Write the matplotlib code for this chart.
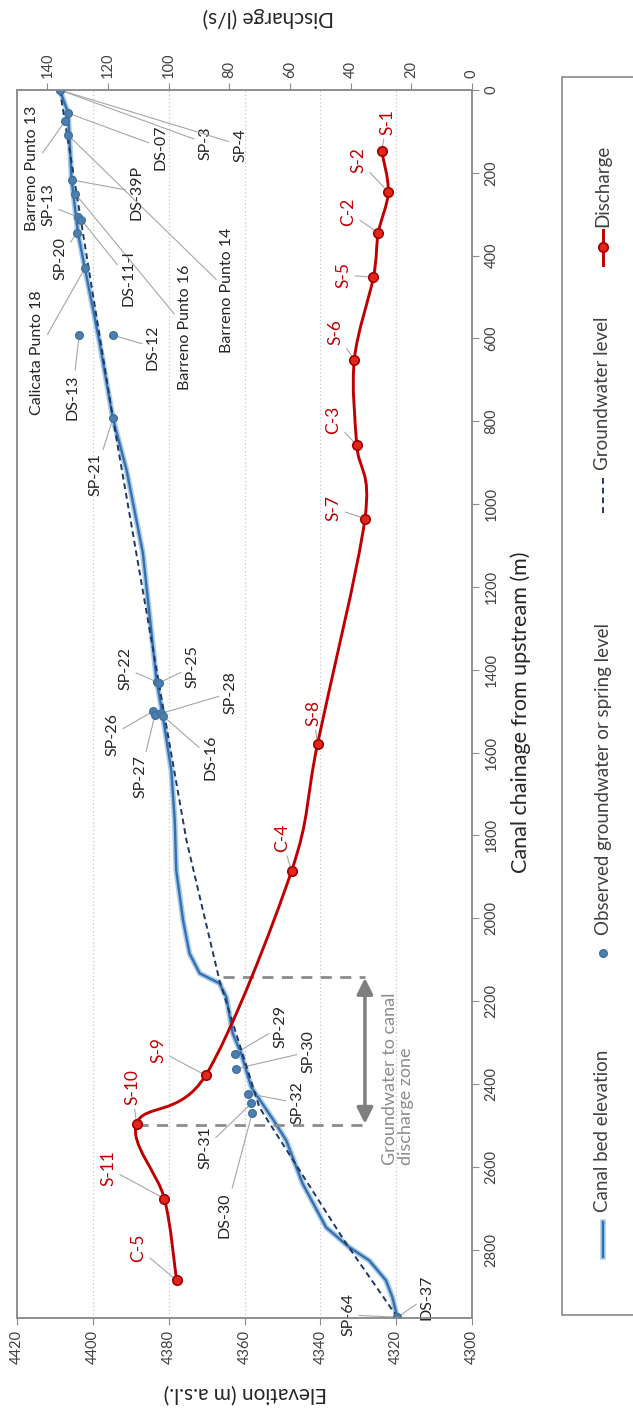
import numpy as np
import matplotlib
matplotlib.use("Agg")
import matplotlib.pyplot as plt
from matplotlib.path import Path
from matplotlib.patches import PathPatch, Rectangle
from matplotlib.lines import Line2D

plt.rcParams['font.family'] = ['Lato', 'DejaVu Sans']

# ---- discharge survey along the canal ----
discharge_names = ['S-1', 'S-2', 'C-2', 'S-5', 'S-6', 'C-3', 'S-7', 'S-8',
                   'C-4', 'S-9', 'S-10', 'S-11', 'C-5']
discharge_chainage = [147, 246, 345, 452, 651, 857, 1035, 1578, 1886, 2379,
                      2496, 2677, 2874]
discharge_flow = [29.8, 27.6, 30.9, 32.5, 38.8, 38.0, 35.3, 50.9, 59.5, 87.8,
                  110.6, 101.4, 97.4]

# ---- canal bed profile ----
canal_chainage = [0, 56, 217, 346, 430, 531, 611, 793, 918, 1118, 1425, 1514,
                  1643, 1763, 1884, 2005, 2085, 2133, 2157, 2190, 2278, 2326,
                  2408, 2488, 2536, 2640, 2746, 2794, 2826, 2874, 2915, 2963]
canal_elevation = [4408.7, 4406.5, 4405.6, 4403.9, 4402.1, 4399.9, 4398.2,
                   4394.7, 4391.1, 4386.8, 4383.2, 4381.5, 4379.3, 4378.4,
                   4378.0, 4376.2, 4374.5, 4371.8, 4366.6, 4364.8, 4363.1,
                   4360.9, 4358.2, 4352.3, 4349.0, 4344.7, 4338.5, 4332.4,
                   4327.1, 4322.7, 4321.0, 4319.7]

# ---- interpreted groundwater level ----
gw_chainage = [0, 793, 1442, 1812, 2150, 2456, 2785, 2963]
gw_elevation = [4408.7, 4394.7, 4382.4, 4375.3, 4366.6, 4356.1, 4333.2, 4319.7]

# ---- observed groundwater / spring levels ----
obs_names = ['SP-3', 'SP-4', 'DS-07', 'Barreno Punto 13', 'Barreno Punto 14',
             'DS-39P', 'Barreno Punto 16', 'SP-13', 'DS-11-I', 'SP-20',
             'Calicata Punto 18', 'DS-13', 'DS-12', 'SP-21', 'SP-22', 'SP-25',
             'SP-26', 'SP-27', 'SP-28', 'DS-16', 'SP-29', 'SP-30', 'SP-32',
             'SP-31', 'DS-30', 'SP-64', 'DS-37']
obs_chainage = [0, 0, 56, 76, 109, 217, 250, 307, 314, 346, 430, 592, 592, 793,
                1429, 1432, 1500, 1508, 1505, 1512, 2327, 2363, 2423, 2447,
                2471, 2963, 2963]
obs_elevation = [4408.7, 4408.7, 4406.5, 4407.4, 4406.5, 4405.6, 4404.7,
                 4403.9, 4403.0, 4404.3, 4402.1, 4403.6, 4394.7, 4394.7,
                 4383.2, 4382.6, 4384.1, 4383.6, 4381.9, 4381.4, 4362.6,
                 4362.2, 4359.1, 4358.2, 4358.0, 4319.7, 4319.7]

# groundwater-to-canal discharge zone (chainage limits, m)
zone_start, zone_end = 2142, 2498

# tick values
elev_ticks = [4300, 4320, 4340, 4360, 4380, 4400, 4420]
flow_ticks = [0, 20, 40, 60, 80, 100, 120, 140]
chain_ticks = list(range(0, 3000, 200))

# ---- label layout (figure pixels from top-left) ----
obs_label_px = [(205, 143), (240, 145), (160, 147), (32, 168), (227, 290),
                (137, 192), (185, 327), (48, 205), (128, 278), (60, 258),
                (37, 353), (72, 397), (153, 347), (95, 475), (125, 668),
                (192, 667), (112, 735), (140, 777), (230, 693), (210, 757),
                (280, 1027), (308, 1052), (297, 1103), (205, 1148),
                (225, 1215), (348, 1315), (427, 1297)]
flow_label_px = [(387, 122), (358, 160), (348, 212), (343, 275), (335, 332),
                 (333, 420), (333, 508), (313, 713), (282, 838), (158, 1050),
                 (132, 1087), (108, 1168), (138, 1248)]

W, H = 633, 1410
fig = plt.figure(figsize=(W / 100, H / 100), dpi=100)


def fx(x):
    return x / W


def fy(y):
    return 1 - y / H


def fpx(x, y):
    return (x, H - y)


RED = '#c00000'
BLUE = '#3470ad'
GLOW = '#a9cbea'
NAVY = '#203864'
DOT = '#41719c'
GREY = '#8c8c8c'
TXT = '#262626'
LEAD = '#a6a6a6'

left, right, top, bottom = 17, 472, 90, 1318
ax = fig.add_axes([fx(left), fy(bottom), (right - left) / W, (bottom - top) / H])
ax.set_xlim(4420, 4300)
ax.set_ylim(2965, 0)
ax2 = ax.twiny()
ax2.set_xlim(150, 0)

for a in (ax, ax2):
    for s in a.spines.values():
        s.set_color('#8c8c8c')
        s.set_linewidth(1.1)

ax.set_xticks(elev_ticks)
ax.set_yticks(chain_ticks)
ax2.set_xticks(flow_ticks)
ax.tick_params(axis='x', bottom=True, top=False, labelbottom=True,
               labeltop=False, labelrotation=90, direction='out', length=5,
               color='#8c8c8c', labelsize=10.5, labelcolor='#404040', pad=4)
ax.tick_params(axis='y', left=False, right=True, labelleft=False,
               labelright=True, labelrotation=90, direction='out', length=5,
               color='#8c8c8c', labelsize=10.5, labelcolor='#404040', pad=4)
ax2.tick_params(axis='x', top=True, bottom=False, labeltop=True,
                labelbottom=False, labelrotation=90, direction='out',
                length=5, color='#8c8c8c', labelsize=10.5,
                labelcolor='#404040', pad=4)
for lab in ax.get_yticklabels():
    lab.set_va('center')

ax.xaxis.grid(True, linestyle=(0, (1, 2)), color='#c8c8c8', lw=0.9)
ax.set_axisbelow(True)

# canal bed with soft halo
ax.plot(canal_elevation, canal_chainage, color=GLOW, lw=4.0,
        solid_joinstyle='round', solid_capstyle='round', zorder=2)
ax.plot(canal_elevation, canal_chainage, color=BLUE, lw=1.7,
        solid_joinstyle='round', zorder=3)
# groundwater level
ax.plot(gw_elevation, gw_chainage, color=NAVY, lw=1.4, dashes=(3, 2), zorder=4)
# observed points
ax.plot(obs_elevation, obs_chainage, 'o', color='#4a7fae', mec=DOT, ms=5.5,
        zorder=5)

for name, e, c, (px, py) in zip(obs_names, obs_elevation, obs_chainage,
                                obs_label_px):
    ax.annotate(name, xy=(e, c), xytext=fpx(px, py), textcoords='figure pixels',
                rotation=90, ha='center', va='center', fontsize=11.5,
                color=TXT, annotation_clip=False,
                arrowprops=dict(arrowstyle='-', color=LEAD, lw=0.8,
                                shrinkA=1, shrinkB=2))


# smoothed discharge curve as cubic Bezier segments
def smooth_path(xs, ys):
    P = np.column_stack([xs, ys]).astype(float)
    n = len(P)
    verts = [P[0]]
    codes = [Path.MOVETO]
    for i in range(n - 1):
        p0 = P[i - 1] if i > 0 else P[i]
        p1, p2 = P[i], P[i + 1]
        p3 = P[i + 2] if i + 2 < n else P[i + 1]
        verts += [p1 + (p2 - p0) / 6, p2 - (p3 - p1) / 6, p2]
        codes += [Path.CURVE4] * 3
    return Path(verts, codes)


ax2.add_patch(PathPatch(smooth_path(discharge_flow, discharge_chainage),
                        fc='none', ec=RED, lw=2.1, zorder=6))
ax2.plot(discharge_flow, discharge_chainage, 'o', mfc='#e3261b', mec='#a00000',
         ms=6.8, mew=1.2, zorder=7)

for name, q, c, (px, py) in zip(discharge_names, discharge_flow,
                                discharge_chainage, flow_label_px):
    ax2.annotate(name, xy=(q, c), xytext=fpx(px, py),
                 textcoords='figure pixels', rotation=90, ha='center',
                 va='center', fontsize=12.5, color=RED, annotation_clip=False,
                 arrowprops=dict(arrowstyle='-', color=LEAD, lw=0.8,
                                 shrinkA=1, shrinkB=3))

# discharge zone markers
arrow_q = 35.3
canal_q_at_zone = 82.0
s10_q = discharge_flow[discharge_names.index('S-10')]
ax2.plot([canal_q_at_zone, arrow_q], [zone_start, zone_start], color=GREY,
         lw=2.0, dashes=(4, 3), zorder=1)
ax2.plot([s10_q, arrow_q], [zone_end, zone_end], color=GREY, lw=2.0,
         dashes=(4, 3), zorder=1)
ax2.annotate('', xy=(arrow_q, zone_start + 2), xytext=(arrow_q, zone_end - 2),
             arrowprops=dict(arrowstyle='<|-|>', color='#7f7f7f', lw=2.5,
                             mutation_scale=24, shrinkA=0, shrinkB=0))
fig.text(fx(398), fy(1165), 'Groundwater to canal\ndischarge zone',
         rotation=90, ha='center', va='bottom', multialignment='left',
         fontsize=13, color='#8c8c8c', linespacing=1.0)

# axis titles
fig.text(fx(245), fy(1393), 'Elevation (m a.s.l.)', rotation=180,
         ha='center', va='center', fontsize=15, color=TXT)
fig.text(fx(268), fy(17), 'Discharge (l/s)', rotation=180, ha='center',
         va='center', fontsize=15, color=TXT)
fig.text(fx(521), fy(712), 'Canal chainage from upstream (m)', rotation=90,
         ha='center', va='center', fontsize=15.5, color=TXT)

# legend
fig.add_artist(Rectangle((fx(562), fy(1315)), fx(900) - fx(562),
                         fy(77) - fy(1315), transform=fig.transFigure,
                         fc='white', ec='#7f7f7f', lw=1.1))
lx = fx(603)
fig.add_artist(Line2D([lx, lx], [fy(230), fy(265)], transform=fig.transFigure,
                      color=RED, lw=2.1))
fig.add_artist(Line2D([lx], [fy(247)], transform=fig.transFigure, marker='o',
                      mfc='#e3261b', mec='#a00000', ms=6.8, mew=1.2, ls='none'))
fig.add_artist(Line2D([lx, lx], [fy(478), fy(513)], transform=fig.transFigure,
                      color=NAVY, lw=1.4, dashes=(3, 2)))
fig.add_artist(Line2D([lx], [fy(953)], transform=fig.transFigure, marker='o',
                      color='#4a7fae', mec=DOT, ms=5.5, ls='none'))
fig.add_artist(Line2D([lx, lx], [fy(1222), fy(1257)], transform=fig.transFigure,
                      color=GLOW, lw=4.0))
fig.add_artist(Line2D([lx, lx], [fy(1222), fy(1257)], transform=fig.transFigure,
                      color=BLUE, lw=1.7))
for text, ystart in [('Discharge', 227), ('Groundwater level', 470),
                     ('Observed groundwater or spring level', 935),
                     ('Canal bed elevation', 1212)]:
    fig.text(lx, fy(ystart), text, rotation=90, ha='center', va='bottom',
             fontsize=13.5, color='#404040')

fig.savefig('out.png', dpi=100)
